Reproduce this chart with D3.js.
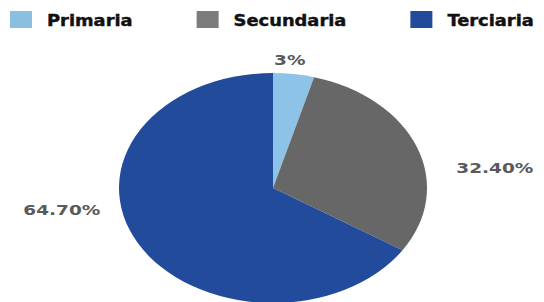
<!DOCTYPE html>
<html>
<head>
<meta charset="utf-8">
<script src="https://cdn.jsdelivr.net/npm/d3@7"></script>
<style>
  html, body { margin: 0; padding: 0; background: #fff; }
  svg { display: block; }
  text { font-family: "DejaVu Sans", sans-serif; font-weight: bold; }
</style>
</head>
<body>
<svg id="chart" width="544" height="302"></svg>
<script>
// data
const categories = ["Primaria", "Secundaria", "Terciaria"];
const shares = [4.3, 29.8, 65.9];          // slice sizes as drawn
const labels = ["3%", "32.40%", "64.70%"]; // printed labels
const pieColors = ["#8cc3e6", "#676767", "#234b9b"];
const legendColors = ["#8bbfe0", "#7c7c7c", "#234b9b"];

const svg = d3.select("#chart");

// ellipse pie geometry
const cx = 273, cy = 188, rx = 154, ry = 115, r = 100;

const pie = d3.pie().sort(null).value(d => d.v);
const slices = pie(categories.map((c, i) => ({ c, v: shares[i], i })));
const arc = d3.arc().innerRadius(0).outerRadius(r);

const pieG = svg.append("g")
    .attr("transform", "translate(" + cx + "," + cy + ") scale(" + (rx / r) + "," + (ry / r) + ")");

pieG.selectAll("path")
    .data(slices)
    .join("path")
    .attr("d", arc)
    .attr("fill", d => pieColors[d.data.i]);

// data labels, placed relative to the mid point of each slice edge
const labelShift = [[-4, -14], [78, 21], [-76, -33]];
const labelStretch = 1.37;

slices.forEach((s, i) => {
    let mid = (s.startAngle + s.endAngle) / 2;
    let ex = cx + rx * Math.sin(mid),
        ey = cy - ry * Math.cos(mid);
    let t = svg.append("text")
        .attr("x", ex + labelShift[i][0])
        .attr("y", ey + labelShift[i][1])
        .attr("dy", "0.36em")
        .attr("text-anchor", "middle")
        .attr("font-size", "13.5px")
        .attr("fill", "#5a5a5a")
        .text(labels[i]);
    let w = t.node().getComputedTextLength();
    t.attr("textLength", w * labelStretch).attr("lengthAdjust", "spacingAndGlyphs");
});

// legend, laid out left to right by text width
const legendStretch = 1.19;
const leg = svg.append("g").attr("class", "legend");
let lx = 10;
categories.forEach((c, i) => {
    let g = leg.append("g").attr("transform", "translate(" + lx + ",11)");
    g.append("rect")
        .attr("width", 22)
        .attr("height", 17)
        .attr("fill", legendColors[i]);
    let t = g.append("text")
        .attr("x", 37)
        .attr("y", 15)
        .attr("font-size", "15px")
        .attr("fill", "#111")
        .style("stroke", "#111")
        .style("stroke-width", 0.4)
        .text(c);
    let w = t.node().getComputedTextLength() * legendStretch;
    t.attr("textLength", w).attr("lengthAdjust", "spacingAndGlyphs");
    lx = lx + 37 + w + 64;
});
</script>
</body>
</html>
